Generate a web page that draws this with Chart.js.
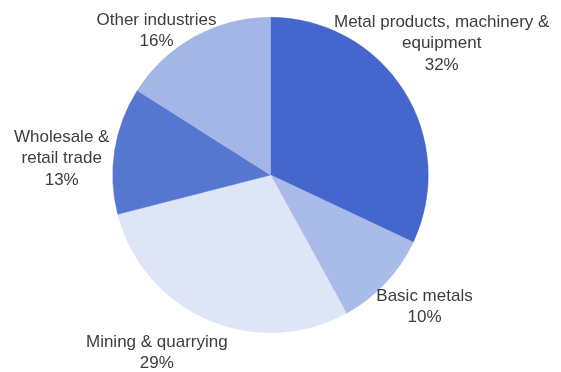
<!DOCTYPE html>
<html>
<head>
<meta charset="utf-8">
<script src="https://cdn.jsdelivr.net/npm/chart.js@4/dist/chart.umd.min.js"></script>
<style>
  html, body { margin: 0; padding: 0; background: #ffffff; }
  #wrap { width: 561px; height: 372px; }
</style>
</head>
<body>
<div id="wrap"><canvas id="pie" width="561" height="372"></canvas></div>
<script>
// Share of industries (percent), clockwise from 12 o'clock
const categories = [
  ['Metal products, machinery &', 'equipment'],
  ['Basic metals'],
  ['Mining & quarrying'],
  ['Wholesale &', 'retail trade'],
  ['Other industries']
];
const shares = [32, 10, 29, 13, 16];

const sliceColors = ['#4566cc', '#a9bbe8', '#dde5f7', '#5577d0', '#a3b6e6'];

// Label block centre, offset in px from the point where each slice's mid-angle meets the rim
const labelOffsets = [[38, -47], [39, 24], [-51, 33], [-53, 8], [-38, -6]];

const sliceLabels = {
  id: 'sliceLabels',
  afterDraw(chart) {
    const ctx = chart.ctx;
    const arcs = chart.getDatasetMeta(0).data;
    const lineH = 21.5;
    ctx.save();
    ctx.font = '17px "Liberation Sans", Arial, sans-serif';
    ctx.fillStyle = '#3d3d3d';
    ctx.textAlign = 'center';
    ctx.textBaseline = 'middle';
    arcs.forEach((arc, i) => {
      const mid = (arc.startAngle + arc.endAngle) / 2;
      const ax = arc.x + Math.cos(mid) * arc.outerRadius + labelOffsets[i][0];
      const ay = arc.y + Math.sin(mid) * arc.outerRadius + labelOffsets[i][1];
      const lines = categories[i].concat([shares[i] + '%']);
      const top = ay - (lines.length - 1) * lineH / 2;
      lines.forEach((t, k) => ctx.fillText(t, ax, top + k * lineH));
    });
    ctx.restore();
  }
};

new Chart(document.getElementById('pie'), {
  type: 'pie',
  data: {
    labels: categories.map(c => c.join(' ')),
    datasets: [{
      data: shares,
      backgroundColor: sliceColors,
      borderColor: sliceColors,
      borderWidth: 0.5
    }]
  },
  options: {
    responsive: false,
    animation: false,
    layout: { padding: { left: 112, right: 132, top: 17, bottom: 39 } },
    plugins: {
      legend: { display: false },
      tooltip: { enabled: false }
    }
  },
  plugins: [sliceLabels]
});
</script>
</body>
</html>
